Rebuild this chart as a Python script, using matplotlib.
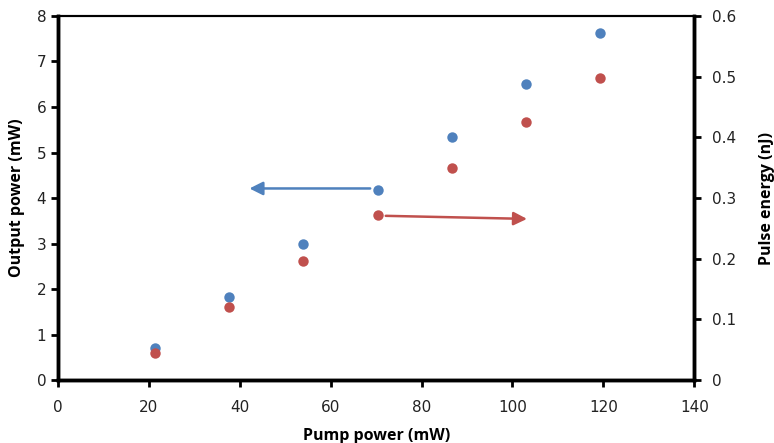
import matplotlib.pyplot as plt

pump_power = [21.3, 37.6, 53.9, 70.3, 86.6, 103.0, 119.3]
output_power = [0.70, 1.83, 3.00, 4.17, 5.34, 6.51, 7.62]
pulse_energy = [0.045, 0.12, 0.196, 0.272, 0.349, 0.425, 0.497]

blue = '#4F81BD'
red = '#C0504D'

fig = plt.figure(figsize=(7.74, 4.43), dpi=100)
ax = fig.add_axes([0.075, 0.142, 0.822, 0.822])
ax2 = ax.twinx()

ax.plot(pump_power, output_power, 'o', color=blue, markersize=7.5, markeredgewidth=0, zorder=3)
ax2.plot(pump_power, pulse_energy, 'o', color=red, markersize=7.5, markeredgewidth=0, zorder=3)

ax.set_xlim(0, 140)
ax.set_ylim(0, 8)
ax2.set_ylim(0, 0.6)
ax.set_xticks(range(0, 141, 20))
ax.set_yticks(range(0, 9))
ax2.set_yticks([0, 0.1, 0.2, 0.3, 0.4, 0.5, 0.6])
ax2.set_yticklabels(['0', '0.1', '0.2', '0.3', '0.4', '0.5', '0.6'])

# 箭头标明对应坐标轴
ax.annotate('', xy=(41.5, 4.21), xytext=(69.3, 4.21),
            arrowprops=dict(arrowstyle='-|>', color=blue, lw=1.8, mutation_scale=20))
ax.annotate('', xy=(103.8, 3.54), xytext=(71.5, 3.61),
            arrowprops=dict(arrowstyle='-|>', color=red, lw=1.8, mutation_scale=20))

label_font = dict(fontsize=11.5, fontweight='bold', family='Open Sans')
ax.set_xlabel('Pump power (mW)', labelpad=10, **label_font)
ax.set_ylabel('Output power (mW)', labelpad=8, **label_font)
ax2.set_ylabel('Pulse energy (nJ)', labelpad=16, **label_font)

for a in (ax, ax2):
    for s in a.spines.values():
        s.set_linewidth(2.5)
        s.set_color('black')
    a.spines['top'].set_linewidth(1.5)
    a.tick_params(axis='both', which='major', labelsize=11, direction='out',
                  length=5, width=2, colors='black', labelcolor='#222222')
ax.tick_params(axis='x', pad=9)
ax2.tick_params(axis='y', pad=8)

plt.savefig('out.png', dpi=100)
